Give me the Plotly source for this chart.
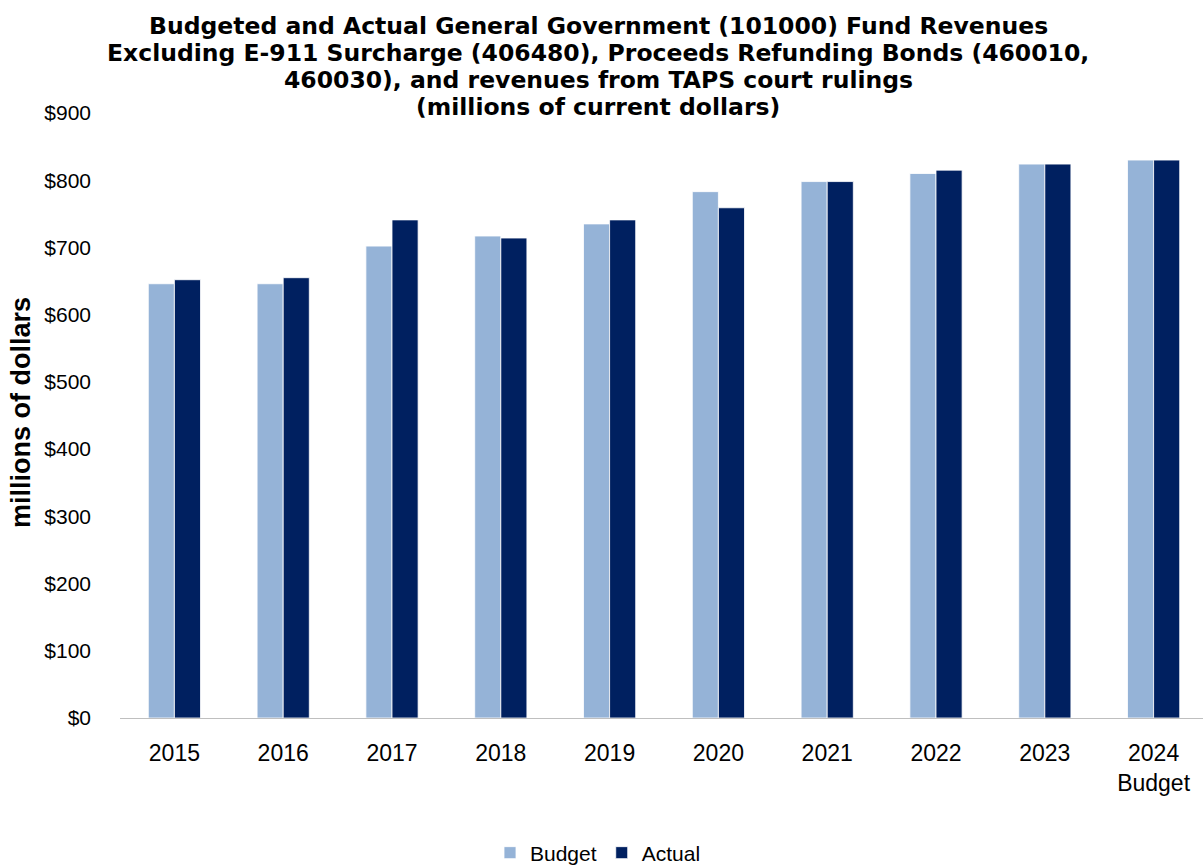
import plotly.graph_objects as go

# Fiscal years shown on the category axis
years = ["2015", "2016", "2017", "2018", "2019", "2020", "2021", "2022", "2023", "2024<br>Budget"]

# General Government fund revenues, millions of current dollars
budget = [646, 646, 702, 717, 735, 783, 798, 810, 824, 830]
actual = [652, 655, 741, 714, 741, 759, 798, 815, 824, 830]

y_ticks = [0, 100, 200, 300, 400, 500, 600, 700, 800, 900]
y_tick_text = ["$" + str(v) for v in y_ticks]

title_lines = [
    "Budgeted and Actual General Government (101000) Fund Revenues",
    "Excluding E-911 Surcharge (406480), Proceeds Refunding Bonds (460010,",
    "460030), and revenues from TAPS court rulings",
    "(millions of current dollars)",
]

LIGHT = "#95b3d7"
DARK = "#002060"
SANS = "Liberation Sans, Arial, sans-serif"
WIDE_BOLD = "DejaVu Sans, Liberation Sans, Arial, sans-serif"

W, H = 1203, 867
L, R, T, B = 120, 0, 113, 149
plot_w = W - L - R
plot_h = H - T - B

fig = go.Figure()
fig.add_trace(go.Bar(
    x=years, y=budget, name="Budget",
    marker=dict(color=LIGHT, line=dict(color="rgba(255,255,255,0.8)", width=1)),
))
fig.add_trace(go.Bar(
    x=years, y=actual, name="Actual",
    marker=dict(color=DARK, line=dict(color="rgba(255,255,255,0.8)", width=1)),
))

# Chart title, one annotation per line for tight line spacing
line_centres = [26, 53, 80, 107]
for text, yc in zip(title_lines, line_centres):
    fig.add_annotation(
        text=text, showarrow=False,
        xref="paper", x=(598 - L) / plot_w, xanchor="center",
        yref="paper", y=(H - B - yc) / plot_h, yanchor="middle",
        font=dict(family=WIDE_BOLD, size=23.5, color="#000000", weight="bold"),
    )

# Vertical axis title
fig.add_annotation(
    text="millions of dollars", showarrow=False, textangle=-90,
    xref="paper", x=(21 - L) / plot_w, xanchor="center",
    yref="paper", y=(H - B - 413) / plot_h, yanchor="middle",
    font=dict(family=SANS, size=27, color="#000000", weight="bold"),
)

fig.update_layout(
    width=W, height=H,
    margin=dict(l=L, r=R, t=T, b=B),
    paper_bgcolor="white", plot_bgcolor="white",
    barmode="group", bargap=0.52, bargroupgap=0.0,
    showlegend=True,
    legend=dict(
        orientation="h", xref="container", x=490 / W, xanchor="left",
        yref="container", y=1 - 853 / H, yanchor="middle",
        font=dict(family=SANS, size=21, color="#000000"),
        traceorder="normal",
    ),
    xaxis=dict(
        range=[-0.5, 9.454],
        showline=True, linecolor="#bfbfbf", linewidth=1,
        ticks="", ticklabelstandoff=14,
        tickfont=dict(family=SANS, size=23, color="#000000"),
        showgrid=False,
    ),
    yaxis=dict(
        range=[0, 900], tickvals=y_ticks, ticktext=y_tick_text,
        showgrid=False, zeroline=False, showline=False, ticks="",
        ticklabelstandoff=28,
        tickfont=dict(family=SANS, size=21, color="#000000"),
    ),
)

fig.write_html("out.html")
